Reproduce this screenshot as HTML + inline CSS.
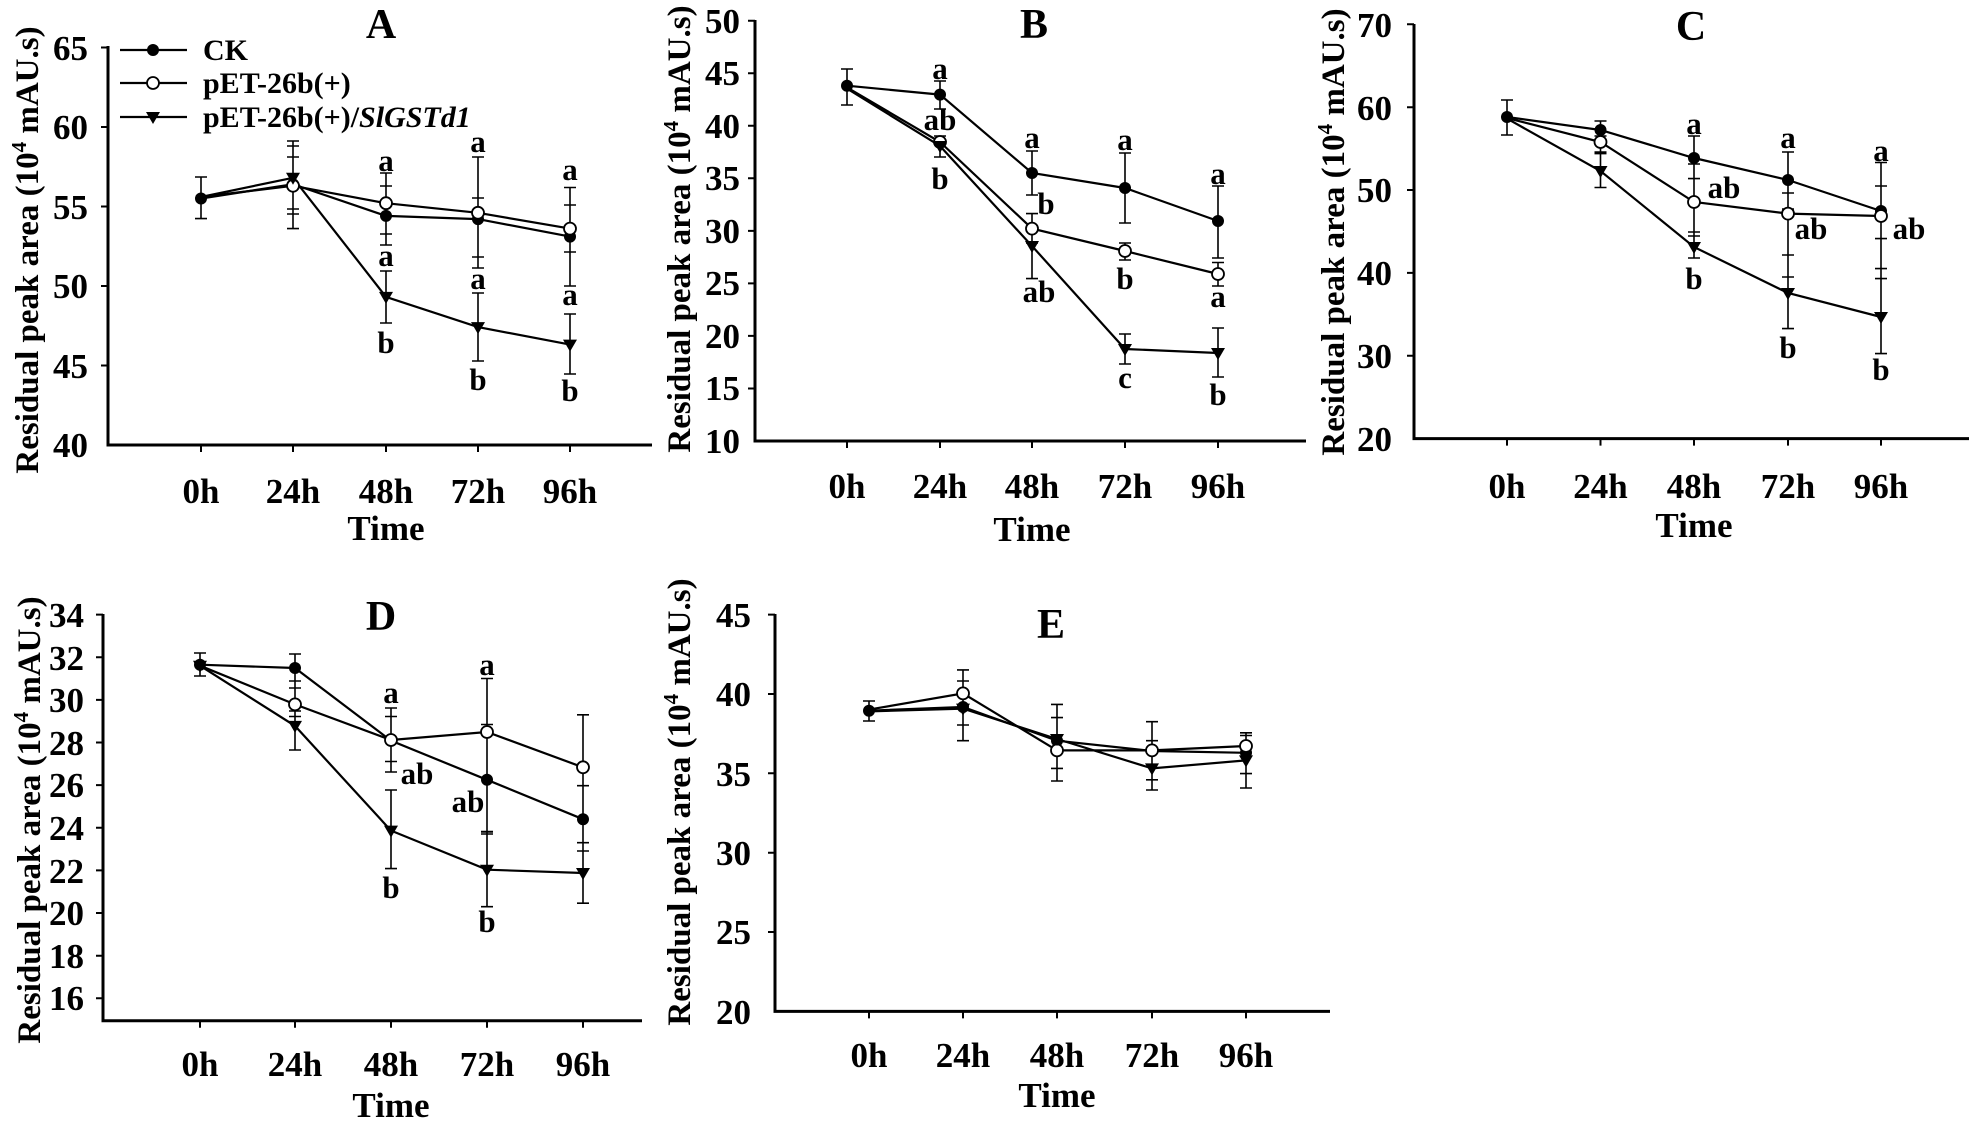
<!DOCTYPE html>
<html><head><meta charset="utf-8"><style>
html,body{margin:0;padding:0;background:#fff;}
svg{display:block;}
text{font-family:"Liberation Serif",serif;font-weight:bold;fill:#000;}
.tk{font-size:35px;}
.lt{font-size:31px;text-anchor:middle;}
.yl{font-size:33px;text-anchor:middle;}
.ax{stroke:#000;stroke-width:3;fill:none;}
.ln{stroke:#000;stroke-width:2.2;fill:none;}
.eb{stroke:#000;stroke-width:1.6;fill:none;}
</style></head><body>
<svg width="1983" height="1122" viewBox="0 0 1983 1122" xmlns="http://www.w3.org/2000/svg">
<defs>
<circle id="c" r="6" fill="#000"/>
<circle id="o" r="6" fill="#fff" stroke="#000" stroke-width="1.8"/>
<path id="t" d="M-7,-5 L7,-5 L0,7 Z" fill="#000"/>
</defs>

<!-- ============ PANEL A ============ -->
<g>
<text x="381" y="38" class="tk" style="font-size:42px" text-anchor="middle">A</text>
<path class="ax" d="M108,46 V445 H652"/>
<path class="ax" d="M101,47.5H108M101,127H108M101,206.5H108M101,286H108M101,365.5H108M201,445v7M293,445v7M386,445v7M478,445v7M570,445v7" style="stroke-width:2"/>
<g class="tk" text-anchor="end">
<text x="88" y="60">65</text><text x="88" y="139">60</text><text x="88" y="219">55</text><text x="88" y="298">50</text><text x="88" y="378">45</text><text x="88" y="457">40</text>
</g>
<g class="tk" text-anchor="middle">
<text x="201" y="503">0h</text><text x="293" y="503">24h</text><text x="386" y="503">48h</text><text x="478" y="503">72h</text><text x="570" y="503">96h</text>
<text x="386" y="540">Time</text>
</g>
<text class="yl" transform="translate(38,250) rotate(-90)">Residual peak area (10<tspan dy="-12" font-size="21">4</tspan><tspan dy="12"> mAU.s)</tspan></text>
<!-- legend -->
<path class="ln" d="M120,50H187M120,83H187M120,117H187"/>
<use href="#c" x="153" y="50"/><use href="#o" x="153" y="83"/><use href="#t" x="153" y="117"/>
<g style="font-size:30px">
<text x="203" y="60">CK</text>
<text x="203" y="93">pET-26b(+)</text>
<text x="203" y="127">pET-26b(+)/<tspan font-style="italic">SlGSTd1</tspan></text>
</g>
<!-- error bars -->
<path class="eb" d="M201,177V218.6M195,177h12M195,218.6h12
M293,141V228.6M287,141h12M287,228.6h12M293,146V214M287,146h12M287,214h12M287,157h12M287,209h12
M386,173V245M380,173h12M380,245h12M380,186h12M380,234h12M386,271V323M380,271h12M380,323h12
M478,157V268M472,157h12M472,268h12M472,198h12M472,257h12M478,293V361M472,293h12M472,361h12
M570,187.5V286M564,187.5h12M564,286h12M564,205h12M564,252h12M570,314V374M564,314h12M564,374h12"/>
<path class="ln" d="M201,198.5L293,184.2L386,215.9L478,219.1L570,236.6"/>
<path class="ln" d="M201,196.9L293,185.8L386,203.2L478,212.8L570,228.6"/>
<path class="ln" d="M201,196.9L293,177.8L386,296.9L478,327.1L570,344.6"/>
<use href="#c" x="201" y="198.5"/><use href="#c" x="293" y="184.2"/><use href="#c" x="386" y="215.9"/><use href="#c" x="478" y="219.1"/><use href="#c" x="570" y="236.6"/>
<use href="#o" x="293" y="185.8"/><use href="#o" x="386" y="203.2"/><use href="#o" x="478" y="212.8"/><use href="#o" x="570" y="228.6"/>
<use href="#t" x="293" y="177.8"/><use href="#t" x="386" y="296.9"/><use href="#t" x="478" y="327.1"/><use href="#t" x="570" y="344.6"/>
<g class="lt">
<text x="386" y="171">a</text><text x="386" y="266">a</text><text x="386" y="353">b</text>
<text x="478" y="152">a</text><text x="478" y="289">a</text><text x="478" y="390">b</text>
<text x="570" y="180">a</text><text x="570" y="305">a</text><text x="570" y="401">b</text>
</g>
</g>

<!-- ============ PANEL B ============ -->
<g>
<text x="1034" y="38" class="tk" style="font-size:42px" text-anchor="middle">B</text>
<path class="ax" d="M755,20 V441 H1306"/>
<path class="ax" style="stroke-width:2" d="M748,20.7H755M748,73.2H755M748,125.8H755M748,178.3H755M748,230.9H755M748,283.4H755M748,335.9H755M748,388.5H755M847,441v7M940,441v7M1032,441v7M1125,441v7M1218,441v7"/>
<g class="tk" text-anchor="end">
<text x="740" y="33">50</text><text x="740" y="85">45</text><text x="740" y="138">40</text><text x="740" y="190">35</text><text x="740" y="243">30</text><text x="740" y="295">25</text><text x="740" y="348">20</text><text x="740" y="400">15</text><text x="740" y="453">10</text>
</g>
<g class="tk" text-anchor="middle">
<text x="847" y="498">0h</text><text x="940" y="498">24h</text><text x="1032" y="498">48h</text><text x="1125" y="498">72h</text><text x="1218" y="498">96h</text>
<text x="1032" y="541">Time</text>
</g>
<text class="yl" transform="translate(690,229) rotate(-90)">Residual peak area (10<tspan dy="-12" font-size="21">4</tspan><tspan dy="12"> mAU.s)</tspan></text>
<path class="eb" d="M847,69V105M841,69h12M841,105h12
M940,81V109M934,81h12M934,109h12M940,136V157M934,136h12M934,157h12
M1032,151V195M1026,151h12M1026,195h12M1032,213.6V243M1026,213.6h12M1026,243h12M1032,228V278.6M1026,278.6h12
M1125,153V223M1119,153h12M1119,223h12M1125,243V260M1119,243h12M1119,260h12M1125,334V364M1119,334h12M1119,364h12
M1218,186V258M1212,186h12M1212,258h12M1218,262.5V286M1212,262.5h12M1212,286h12M1218,328V377M1212,328h12M1212,377h12"/>
<path class="ln" d="M847,85.7L940,94.6L1032,173L1125,188L1218,221"/>
<path class="ln" d="M847,87.5L940,142L1032,228.6L1125,251L1218,274"/>
<path class="ln" d="M847,88.6L940,146L1032,246L1125,349L1218,353"/>
<use href="#c" x="847" y="85.7"/><use href="#c" x="940" y="94.6"/><use href="#c" x="1032" y="173"/><use href="#c" x="1125" y="188"/><use href="#c" x="1218" y="221"/>
<use href="#o" x="940" y="142"/><use href="#o" x="1032" y="228.6"/><use href="#o" x="1125" y="251"/><use href="#o" x="1218" y="274"/>
<use href="#t" x="940" y="146"/><use href="#t" x="1032" y="246"/><use href="#t" x="1125" y="349"/><use href="#t" x="1218" y="353"/>
<g class="lt">
<text x="940" y="79">a</text><text x="940" y="130">ab</text><text x="940" y="189">b</text>
<text x="1032" y="148">a</text><text x="1046" y="214">b</text><text x="1039" y="302">ab</text>
<text x="1125" y="150">a</text><text x="1125" y="289">b</text><text x="1125" y="388">c</text>
<text x="1218" y="184">a</text><text x="1218" y="307">a</text><text x="1218" y="405">b</text>
</g>
</g>

<!-- ============ PANEL C ============ -->
<g>
<text x="1691" y="40" class="tk" style="font-size:42px" text-anchor="middle">C</text>
<path class="ax" d="M1414,24 V438.6 H1969"/>
<path class="ax" style="stroke-width:2" d="M1407,24.3H1414M1407,107.2H1414M1407,190H1414M1407,272.9H1414M1407,355.7H1414M1507,438.6v7M1600.5,438.6v7M1694,438.6v7M1788,438.6v7M1881,438.6v7"/>
<g class="tk" text-anchor="end">
<text x="1392" y="37">70</text><text x="1392" y="120">60</text><text x="1392" y="202">50</text><text x="1392" y="285">40</text><text x="1392" y="368">30</text><text x="1392" y="451">20</text>
</g>
<g class="tk" text-anchor="middle">
<text x="1507" y="498">0h</text><text x="1600.5" y="498">24h</text><text x="1694" y="498">48h</text><text x="1788" y="498">72h</text><text x="1881" y="498">96h</text>
<text x="1694" y="537">Time</text>
</g>
<text class="yl" transform="translate(1344,232) rotate(-90)">Residual peak area (10<tspan dy="-12" font-size="21">4</tspan><tspan dy="12"> mAU.s)</tspan></text>
<path class="eb" d="M1507,100V135M1501,100h12M1501,135h12
M1600.5,121V187.5M1594.5,121h12M1594.5,136h12M1594.5,153.6h12M1594.5,152h12M1594.5,187.5h12
M1694,136V258M1688,136h12M1688,178.6h12M1688,164h12M1688,236h12M1688,232h12M1688,258h12
M1788,152V328.6M1782,152h12M1782,209h12M1782,193h12M1782,255h12M1782,277h12M1782,328.6h12
M1881,162.5V353.6M1875,162.5h12M1875,238.6h12M1875,186h12M1875,268.6h12M1875,278.6h12M1875,353.6h12"/>
<path class="ln" d="M1507,117L1600.5,130L1694,158L1788,180L1881,211"/>
<path class="ln" d="M1507,118L1600.5,142L1694,202L1788,213.6L1881,216"/>
<path class="ln" d="M1507,118.6L1600.5,171L1694,247L1788,293L1881,317"/>
<use href="#c" x="1507" y="117"/><use href="#c" x="1600.5" y="130"/><use href="#c" x="1694" y="158"/><use href="#c" x="1788" y="180"/><use href="#c" x="1881" y="211"/>
<use href="#o" x="1600.5" y="142"/><use href="#o" x="1694" y="202"/><use href="#o" x="1788" y="213.6"/><use href="#o" x="1881" y="216"/>
<use href="#t" x="1600.5" y="171"/><use href="#t" x="1694" y="247"/><use href="#t" x="1788" y="293"/><use href="#t" x="1881" y="317"/>
<g class="lt">
<text x="1694" y="134">a</text><text x="1724" y="198">ab</text><text x="1694" y="289">b</text>
<text x="1788" y="148">a</text><text x="1811" y="239">ab</text><text x="1788" y="358">b</text>
<text x="1881" y="161">a</text><text x="1909" y="239">ab</text><text x="1881" y="380">b</text>
</g>
</g>

<!-- ============ PANEL D ============ -->
<g>
<text x="381" y="630" class="tk" style="font-size:42px" text-anchor="middle">D</text>
<path class="ax" d="M103,614 V1020.7 H642"/>
<path class="ax" style="stroke-width:2" d="M96,614.6H103M96,657.2H103M96,699.9H103M96,742.5H103M96,785.1H103M96,827.8H103M96,870.4H103M96,913H103M96,955.7H103M96,998.3H103M200,1020.7v7M295,1020.7v7M391,1020.7v7M487,1020.7v7M583,1020.7v7"/>
<g class="tk" text-anchor="end">
<text x="84" y="627">34</text><text x="84" y="670">32</text><text x="84" y="712">30</text><text x="84" y="755">28</text><text x="84" y="797">26</text><text x="84" y="840">24</text><text x="84" y="883">22</text><text x="84" y="925">20</text><text x="84" y="968">18</text><text x="84" y="1010">16</text>
</g>
<g class="tk" text-anchor="middle">
<text x="200" y="1076">0h</text><text x="295" y="1076">24h</text><text x="391" y="1076">48h</text><text x="487" y="1076">72h</text><text x="583" y="1076">96h</text>
<text x="391" y="1117">Time</text>
</g>
<text class="yl" transform="translate(40,820) rotate(-90)">Residual peak area (10<tspan dy="-12" font-size="21">4</tspan><tspan dy="12"> mAU.s)</tspan></text>
<path class="eb" d="M200,653V676M194,653h12M194,676h12
M295,654V750M289,654h12M289,681h12M289,688h12M289,716.5h12M289,711h12M289,750h12
M391,708V772M385,708h12M385,772h12M385,716.5h12M385,761.5h12M391,790V868.6M385,790h12M385,868.6h12
M487,678.5V906.7M481,678.5h12M481,724.5h12M481,834h12M481,832h12M481,831.6h12M481,906.7h12
M583,714.8V903.2M577,714.8h12M577,785.7h12M577,851h12M577,842.7h12M577,903.2h12"/>
<path class="ln" d="M200,664.7L295,668L391,740.7L487,779.8L583,819.2"/>
<path class="ln" d="M200,665.7L295,704.4L391,740L487,732L583,767.3"/>
<path class="ln" d="M200,665.7L295,725.9L391,830.6L487,869.7L583,873"/>
<use href="#c" x="200" y="664.7"/><use href="#c" x="295" y="668"/><use href="#c" x="391" y="740.7"/><use href="#c" x="487" y="779.8"/><use href="#c" x="583" y="819.2"/>
<use href="#o" x="295" y="704.4"/><use href="#o" x="391" y="740"/><use href="#o" x="487" y="732"/><use href="#o" x="583" y="767.3"/>
<use href="#t" x="200" y="665.7"/><use href="#t" x="295" y="725.9"/><use href="#t" x="391" y="830.6"/><use href="#t" x="487" y="869.7"/><use href="#t" x="583" y="873"/>
<g class="lt">
<text x="391" y="703">a</text><text x="417" y="784">ab</text><text x="391" y="898">b</text>
<text x="487" y="675">a</text><text x="468" y="812">ab</text><text x="487" y="932">b</text>
</g>
</g>

<!-- ============ PANEL E ============ -->
<g>
<text x="1051" y="638" class="tk" style="font-size:42px" text-anchor="middle">E</text>
<path class="ax" d="M775,614 V1011.4 H1330"/>
<path class="ax" style="stroke-width:2" d="M768,614.6H775M768,694H775M768,773.3H775M768,852.7H775M768,932H775M869,1011.4v7M963,1011.4v7M1057,1011.4v7M1152,1011.4v7M1246,1011.4v7"/>
<g class="tk" text-anchor="end">
<text x="751" y="627">45</text><text x="751" y="706">40</text><text x="751" y="786">35</text><text x="751" y="865">30</text><text x="751" y="944">25</text><text x="751" y="1024">20</text>
</g>
<g class="tk" text-anchor="middle">
<text x="869" y="1067">0h</text><text x="963" y="1067">24h</text><text x="1057" y="1067">48h</text><text x="1152" y="1067">72h</text><text x="1246" y="1067">96h</text>
<text x="1057" y="1107">Time</text>
</g>
<text class="yl" transform="translate(690,802) rotate(-90)">Residual peak area (10<tspan dy="-12" font-size="21">4</tspan><tspan dy="12"> mAU.s)</tspan></text>
<path class="eb" d="M869,701V721M863,701h12M863,721h12
M963,669.9V740.7M957,669.9h12M957,681h12M957,725h12M957,740.7h12
M1057,704.4V781M1051,704.4h12M1051,717.6h12M1051,768.4h12M1051,781h12
M1152,721.7V790M1146,721.7h12M1146,740.7h12M1146,779.8h12M1146,790h12
M1246,732.8V788M1240,732.8h12M1240,735.5h12M1240,773.6h12M1240,788h12"/>
<path class="ln" d="M869,710.7L963,707L1057,740.7L1152,751L1246,752.8"/>
<path class="ln" d="M869,709.6L963,693.4L1057,750.4L1152,750.4L1246,746"/>
<path class="ln" d="M869,711.4L963,708.6L1057,739L1152,768.4L1246,760.4"/>
<use href="#c" x="869" y="710.7"/><use href="#c" x="963" y="707"/><use href="#c" x="1057" y="740.7"/><use href="#c" x="1152" y="751"/><use href="#c" x="1246" y="752.8"/>
<use href="#o" x="963" y="693.4"/><use href="#o" x="1057" y="750.4"/><use href="#o" x="1152" y="750.4"/><use href="#o" x="1246" y="746"/>
<use href="#t" x="963" y="708.6"/><use href="#t" x="1057" y="739"/><use href="#t" x="1152" y="768.4"/><use href="#t" x="1246" y="760.4"/>
</g>
</svg>
</body></html>
